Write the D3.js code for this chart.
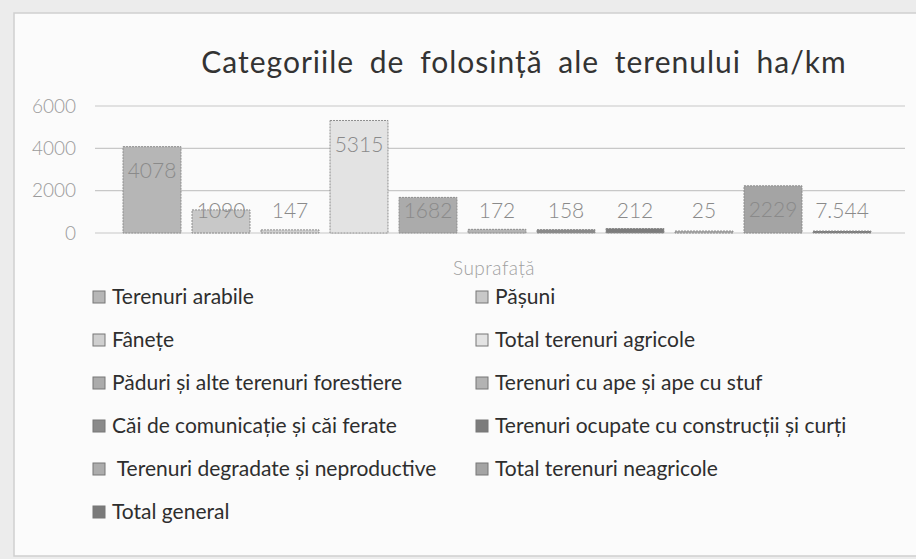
<!DOCTYPE html>
<html><head><meta charset="utf-8">
<script src="https://cdn.jsdelivr.net/npm/d3@7"></script>
<style>html,body{margin:0;padding:0;background:#ececec;}svg{display:block;}</style>
</head><body>
<svg id="chart" width="916" height="559"></svg>
<script>
const titleText = "Categoriile de folosință ale terenului ha/km";
const categoryLabel = "Suprafață";
const seriesNames = [
  "Terenuri arabile","Pășuni","Fânețe","Total terenuri agricole",
  "Păduri și alte terenuri forestiere","Terenuri cu ape și ape cu stuf",
  "Căi de comunicație și căi ferate","Terenuri ocupate cu construcții și curți",
  " Terenuri degradate și neproductive","Total terenuri neagricole","Total general"
];
const seriesValues = [4078, 1090, 147, 5315, 1682, 172, 158, 212, 25, 2229, 7.544];
const valueLabels = ["4078","1090","147","5315","1682","172","158","212","25","2229","7.544"];
const yTicks = [0, 2000, 4000, 6000];
const seriesColors = ["#b6b6b6","#c8c8c8","#cfcfcf","#e3e3e3","#ababab","#b3b3b3","#8a8a8a","#7c7c7c","#acacac","#a4a4a4","#7a7a7a"];

const svg = d3.select("#chart");
const font = "Lato, 'Open Sans', sans-serif";

// frame
svg.append("rect").attr("x",14).attr("y",13).attr("width",920).attr("height",543)
  .attr("fill","#fbfbfb").attr("stroke","#cfcfcf").attr("stroke-width",1.5);

const y = d3.scaleLinear().domain([0,6000]).range([233,106]);
const x = d3.scaleBand().domain(seriesNames).range([117.5,876.5]).paddingInner(0.16).paddingOuter(0.08);

// gridlines
svg.append("g").selectAll("line").data(yTicks).join("line")
  .attr("x1",95).attr("x2",905).attr("y1",d=>y(d)).attr("y2",d=>y(d))
  .attr("stroke","#c8c8c8").attr("stroke-width",1.2);

// y axis labels
const yAxis = d3.axisLeft(y).tickValues(yTicks).tickSize(0).tickPadding(0).tickFormat(d3.format("d"));
const ag = svg.append("g").attr("transform","translate(76,0)").call(yAxis);
ag.select(".domain").remove();
ag.selectAll("text").attr("font-family",font).attr("font-size",19).attr("font-weight",300).attr("fill","#9a9a9a");

// bars
svg.append("g").selectAll("rect").data(seriesNames).join("rect")
  .attr("x",d=>x(d)).attr("width",x.bandwidth())
  .attr("y",(d,i)=>Math.min(y(seriesValues[i]), y(0)-2))
  .attr("height",(d,i)=>Math.max(y(0)-y(seriesValues[i]),2))
  .attr("fill",(d,i)=>seriesColors[i])
  .attr("stroke","#8d8d8d").attr("stroke-width",1).attr("stroke-dasharray","2,1");

// value labels
svg.append("g").selectAll("text").data(seriesNames).join("text")
  .attr("x",d=>x(d)+x.bandwidth()/2)
  .attr("y",(d,i)=>Math.min(y(seriesValues[i])+24, y(0)-22))
  .attr("dy","0.35em").attr("text-anchor","middle")
  .attr("font-family",font).attr("font-size",21).attr("font-weight",300).attr("fill","#8a8a8a")
  .text((d,i)=>valueLabels[i]);

// category label
svg.append("text").attr("x",494).attr("y",268).attr("dy","0.35em").attr("text-anchor","middle")
  .attr("font-family",font).attr("font-size",19).attr("font-weight",300).attr("letter-spacing","0.5px").attr("fill","#a0a0a0").text(categoryLabel);

// title
svg.append("text").attr("x",524).attr("y",62).attr("dy","0.35em").attr("text-anchor","middle")
  .attr("font-family",font).attr("font-size",30).attr("fill","#333")
  .attr("letter-spacing","1px").attr("word-spacing","7px").text(titleText);

// legend
const legend = svg.append("g");
seriesNames.forEach((name,i)=>{
  const col = i%2, row = Math.floor(i/2);
  const lx = col===0 ? 93 : 476;
  const ly = 297 + row*43;
  legend.append("rect").attr("x",lx).attr("y",ly-6).attr("width",12).attr("height",12)
    .attr("fill",seriesColors[i]).attr("stroke","#777").attr("stroke-width",1);
  legend.append("text").attr("x",lx+19).attr("y",ly).attr("dy","0.35em")
    .attr("font-family",font).attr("font-size",21).attr("fill","#2e2e2e")
    .attr("xml:space","preserve").style("white-space","pre").text(name);
});
</script>
</body></html>
